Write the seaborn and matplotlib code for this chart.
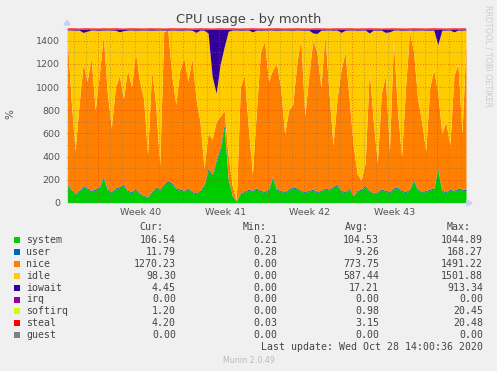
import matplotlib
matplotlib.use("Agg")
import numpy as np
import pandas as pd
import matplotlib.pyplot as plt
from matplotlib.patches import Rectangle, Polygon
from matplotlib.ticker import MultipleLocator, FixedLocator
import matplotlib.transforms as mtransforms
import seaborn as sns

# ---------------- data (8-hour samples) ----------------
start_time = "2020-09-25 10:00"

system = [150, 110, 75, 100, 140, 120, 100, 110, 130, 220,
          110, 90, 120, 130, 150, 100, 90, 110, 80, 60,
          50, 90, 130, 110, 150, 180, 160, 120, 110, 100,
          120, 90, 80, 100, 150, 280, 230, 350, 450, 650,
          200, 60, 15, 80, 90, 110, 100, 120, 100, 90,
          110, 220, 110, 100, 90, 110, 130, 120, 100, 90,
          100, 110, 90, 100, 120, 110, 130, 150, 100, 90,
          120, 60, 100, 110, 140, 100, 80, 90, 110, 100,
          90, 120, 130, 100, 90, 110, 190, 110, 90, 100,
          110, 120, 280, 100, 90, 110, 100, 120, 110, 107]

user = [12, 10, 8, 9, 11, 10, 9, 10, 11, 14,
        10, 9, 10, 11, 12, 9, 9, 10, 8, 7,
        6, 9, 11, 10, 12, 13, 12, 10, 10, 9,
        10, 9, 8, 9, 12, 18, 15, 20, 25, 30,
        12, 6, 3, 8, 9, 10, 9, 10, 9, 8,
        10, 14, 10, 9, 8, 10, 11, 10, 9, 8,
        9, 10, 8, 9, 10, 9, 11, 12, 9, 8,
        10, 6, 9, 10, 11, 9, 7, 8, 10, 9,
        8, 10, 11, 9, 8, 10, 14, 10, 8, 9,
        10, 10, 20, 9, 8, 10, 9, 10, 10, 12]

nice = [1308, 780, 367, 741, 1049, 920, 1141, 680, 959, 1216,
        830, 551, 870, 959, 738, 1041, 901, 1180, 962, 833,
        364, 1051, 709, 210, 1318, 1297, 928, 720, 1030, 1141,
        920, 1151, 812, 591, 138, 302, 305, 330, 275, 120,
        188, 84, 5, 912, 1001, 530, 141, 670, 1191, 1302,
        930, 916, 1080, 891, 502, 680, 709, 1070, 1311, 652,
        991, 1280, 1202, 891, 1320, 831, 359, 738, 1041, 1202,
        770, 434, 141, 80, 199, 1041, 613, 252, 830, 991,
        352, 1270, 659, 291, 902, 1360, 1096, 780, 602, 341,
        880, 1020, 650, 491, 602, 380, 991, 1070, 480, 1271]

idle = [21, 592, 1040, 641, 271, 431, 242, 691, 390, 41,
        542, 841, 490, 376, 586, 341, 492, 190, 441, 592,
        1071, 340, 641, 1162, 11, 0, 392, 641, 340, 241,
        442, 240, 571, 791, 1190, 866, 546, 246, 446, 546,
        1081, 1341, 1469, 490, 391, 842, 1226, 691, 190, 91,
        442, 341, 290, 491, 892, 691, 640, 292, 71, 740,
        391, 66, 161, 490, 41, 542, 990, 591, 321, 190,
        591, 992, 1240, 1291, 1142, 316, 791, 1140, 541, 371,
        1026, 91, 692, 1090, 491, 12, 190, 591, 792, 1041,
        490, 341, 416, 890, 791, 992, 376, 291, 890, 102]

iowait = [5, 4, 6, 5, 25, 15, 4, 5, 6, 5,
          4, 5, 6, 20, 10, 5, 4, 6, 5, 4,
          5, 6, 5, 4, 5, 6, 4, 5, 6, 5,
          4, 6, 25, 5, 6, 30, 400, 550, 300, 150,
          15, 5, 4, 6, 5, 4, 20, 5, 6, 5,
          4, 5, 6, 5, 4, 5, 6, 4, 5, 6,
          5, 30, 35, 6, 5, 4, 6, 5, 25, 6,
          5, 4, 6, 5, 4, 30, 5, 6, 5, 25,
          20, 5, 4, 6, 5, 4, 6, 5, 4, 5,
          6, 5, 130, 6, 5, 4, 20, 5, 6, 4]

softirq = [1.0, 0.9, 1.1, 1.0, 1.2, 0.9, 1.0, 1.1, 0.9, 1.0,
           1.1, 1.0, 0.9, 1.0, 1.1, 1.0, 0.8, 1.0, 0.9, 1.1,
           1.0, 0.9, 1.0, 1.1, 1.0, 0.9, 1.0, 1.1, 1.0, 0.9,
           1.0, 1.1, 0.9, 1.0, 1.0, 1.2, 1.1, 1.0, 0.9, 1.0,
           1.1, 0.9, 0.8, 1.0, 1.0, 0.9, 1.1, 1.0, 0.9, 1.0,
           1.0, 1.1, 0.9, 1.0, 1.0, 0.9, 1.1, 1.0, 0.9, 1.0,
           1.1, 1.0, 0.9, 1.0, 1.1, 0.9, 1.0, 1.0, 0.9, 1.1,
           1.0, 0.9, 1.0, 1.1, 1.0, 0.9, 1.0, 1.1, 0.9, 1.0,
           1.0, 1.1, 0.9, 1.0, 1.0, 0.9, 1.1, 1.0, 0.9, 1.0,
           1.1, 1.0, 0.9, 1.0, 1.1, 0.9, 1.0, 1.1, 1.0, 1.2]

steal = [3, 4, 3, 2, 3, 4, 3, 3, 2, 4,
         3, 3, 4, 3, 2, 3, 4, 3, 3, 2,
         3, 4, 3, 3, 2, 3, 4, 3, 3, 4,
         3, 2, 3, 4, 3, 3, 2, 3, 4, 3,
         3, 4, 3, 2, 3, 3, 4, 3, 3, 2,
         3, 3, 4, 3, 2, 3, 3, 4, 3, 3,
         2, 3, 4, 3, 3, 2, 3, 4, 3, 3,
         4, 3, 2, 3, 3, 4, 3, 3, 2, 3,
         3, 4, 3, 3, 2, 3, 4, 3, 3, 2,
         3, 4, 3, 3, 2, 3, 4, 3, 3, 4]

legend_names = ["system", "user", "nice", "idle", "iowait", "irq", "softirq", "steal", "guest"]
stat_cur = ["106.54", "11.79", "1270.23", "98.30", "4.45", "0.00", "1.20", "4.20", "0.00"]
stat_min = ["0.21", "0.28", "0.00", "0.00", "0.00", "0.00", "0.00", "0.03", "0.00"]
stat_avg = ["104.53", "9.26", "773.75", "587.44", "17.21", "0.00", "0.98", "3.15", "0.00"]
stat_max = ["1044.89", "168.27", "1491.22", "1501.88", "913.34", "0.00", "20.45", "20.48", "0.00"]
week_labels = ["Week 40", "Week 41", "Week 42", "Week 43"]
y_ticks = [0, 200, 400, 600, 800, 1000, 1200, 1400]
last_update = "Last update: Wed Oct 28 14:00:36 2020"

colors = {"system": "#00CC00", "user": "#0066B3", "nice": "#FF8000", "idle": "#FFCC00",
          "iowait": "#330099", "irq": "#990099", "softirq": "#CCFF00", "steal": "#FF0000",
          "guest": "#808080"}

# ---------------- figure ----------------
sns.set_style("white")
plt.rcParams["font.family"] = ["DejaVu Sans"]

W, H = 497, 371
fig = plt.figure(figsize=(W / 100, H / 100), dpi=100, facecolor="#F0F0F0")

def fx(x):
    return x / W

def fy(y):
    return 1 - y / H

L, R, T, B = 67, 466, 28, 203
ax = fig.add_axes([fx(L), fy(B), (R - L) / W, (B - T) / H])
ax.set_facecolor("white")

times = pd.date_range(start_time, periods=len(system), freq="8h")
df = pd.DataFrame({"time": times, "system": system, "user": user, "nice": nice,
                   "idle": idle, "iowait": iowait, "softirq": softirq, "steal": steal})

stack_cols = ["system", "user", "nice", "idle", "iowait", "softirq", "steal"]
ax.stackplot(df["time"], *[df[c] for c in stack_cols],
             colors=[colors[c] for c in stack_cols], linewidth=0, antialiased=True)

# top (steal) edge
df["total"] = df[stack_cols].sum(axis=1)
sns.lineplot(data=df, x="time", y="total", ax=ax, color="#FF0000", linewidth=0.9)

ax.set_xlim(times[0], times[-1])
ax.set_ylim(0, 1509)
ax.set_xlabel("")
ax.set_ylabel("")

# y axis
ax.yaxis.set_major_locator(FixedLocator(y_ticks))
ax.yaxis.set_minor_locator(MultipleLocator(100))
ax.set_yticklabels([str(v) for v in y_ticks])
ax.tick_params(axis="y", which="major", length=2, width=0.6, color="#FF9090",
               labelsize=6.8, labelcolor="#555555", pad=3, direction="out")
ax.tick_params(axis="y", which="minor", length=1.5, width=0.5, color="#C8C8C8", direction="out")

# x axis: weeks (major) and days (minor)
mondays = pd.date_range("2020-09-28", periods=5, freq="7D")
days = pd.date_range("2020-09-26", "2020-10-28", freq="1D")
ax.set_xticks(mondays)
ax.set_xticks(days, minor=True)
ax.set_xticklabels([""] * len(mondays))
ax.tick_params(axis="x", which="major", length=3, width=0.6, color="#FF7070", direction="out")
ax.tick_params(axis="x", which="minor", length=2, width=0.5, color="#C8C8C8", direction="out")

trans = mtransforms.blended_transform_factory(ax.transData, ax.transAxes)
for i, lab in enumerate(week_labels):
    mid = mondays[i] + pd.Timedelta(days=3, hours=12)
    ax.text(mid, -(212.7 - B) / (B - T), lab, transform=trans, ha="center", va="center",
            fontsize=6.8, color="#555555")

# subtle dotted grid on top of the areas
ax.set_axisbelow(False)
ax.grid(which="major", axis="both", color=(0.9, 0.1, 0.1, 0.28), linestyle=(0, (1, 3)), linewidth=0.5)
ax.grid(which="minor", axis="both", color=(0.45, 0.45, 0.45, 0.22), linestyle=(0, (1, 3)), linewidth=0.5)

for s in ["top", "right"]:
    ax.spines[s].set_visible(False)
for s in ["left", "bottom"]:
    ax.spines[s].set_color("#D6DCEA")
    ax.spines[s].set_linewidth(0.8)

# axis arrows
arrow_col = "#C8D2F0"
fig.patches.append(Polygon([[fx(64), fy(25)], [fx(70), fy(25)], [fx(67), fy(20)]],
                           closed=True, transform=fig.transFigure, color=arrow_col))
fig.patches.append(Polygon([[fx(467), fy(200)], [fx(467), fy(206)], [fx(472), fy(203)]],
                           closed=True, transform=fig.transFigure, color=arrow_col))

# titles
fig.text(fx(248.5), fy(19), "CPU usage - by month", ha="center", va="center",
         fontsize=9.4, color="#444444")
fig.text(fx(10), fy(114), "%", ha="center", va="center", rotation=90, fontsize=7.5, color="#555555")
fig.text(fx(488), fy(5), "RRDTOOL / TOBI OETIKER", ha="center", va="top", rotation=270,
         fontsize=5.8, color="#CCCCCC")

# legend table
mono = {"family": "DejaVu Sans Mono", "size": 7.1, "color": "#444444"}
head_y = 227
fig.text(fx(163.5), fy(head_y), "Cur:", ha="right", va="center", fontdict=mono)
fig.text(fx(267), fy(head_y), "Min:", ha="right", va="center", fontdict=mono)
fig.text(fx(368.5), fy(head_y), "Avg:", ha="right", va="center", fontdict=mono)
fig.text(fx(470.5), fy(head_y), "Max:", ha="right", va="center", fontdict=mono)

row0, step = 240, 11.9
for i, name in enumerate(legend_names):
    y = row0 + i * step
    fig.patches.append(Rectangle((fx(14), fy(y + 3)), 6 / W, 6 / H, transform=fig.transFigure,
                                 facecolor=colors[name], edgecolor="none"))
    fig.text(fx(26), fy(y), name, ha="left", va="center", fontdict=mono)
    fig.text(fx(176), fy(y), stat_cur[i], ha="right", va="center", fontdict=mono)
    fig.text(fx(277.5), fy(y), stat_min[i], ha="right", va="center", fontdict=mono)
    fig.text(fx(379), fy(y), stat_avg[i], ha="right", va="center", fontdict=mono)
    fig.text(fx(483), fy(y), stat_max[i], ha="right", va="center", fontdict=mono)

fig.text(fx(483), fy(347.5), last_update, ha="right", va="center", fontdict=mono)
fig.text(fx(249), fy(360.5), "Munin 2.0.49", ha="center", va="center", fontsize=5.8, color="#BBBBBB")

fig.savefig("out.png", dpi=100, facecolor=fig.get_facecolor())
